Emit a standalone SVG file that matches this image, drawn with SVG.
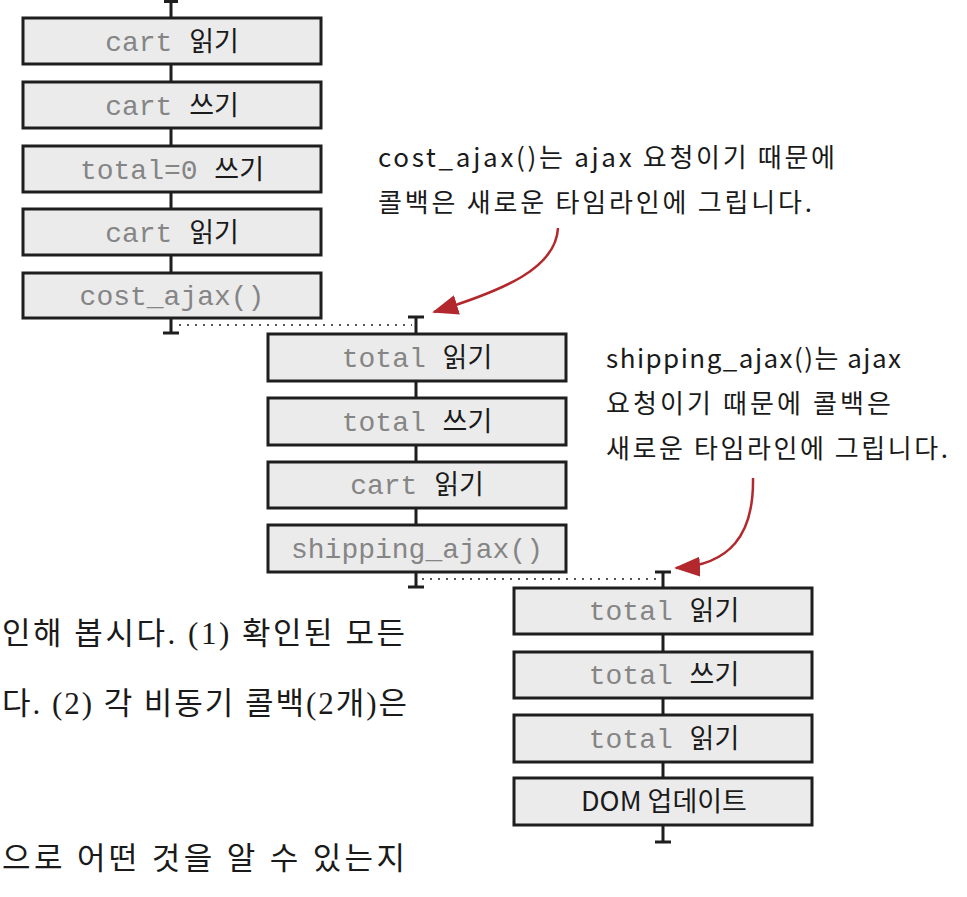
<svg xmlns="http://www.w3.org/2000/svg" width="967" height="897" viewBox="0 0 967 897">
<style>
.box{fill:#ebebeb;stroke:#1e1e1e;stroke-width:3}
.mono{font-family:"Liberation Mono","Noto Sans CJK KR",monospace;font-size:28px;fill:#858585}
.ko{font-family:"Noto Sans CJK KR",sans-serif;font-size:27px;fill:#1a1a1a}
.lbl{text-anchor:middle}
.tl{stroke:#1e1e1e;stroke-width:3;fill:none}
.dot{stroke:#555;stroke-width:2;stroke-dasharray:2 6;fill:none}
.note{font-family:"Noto Sans CJK KR",sans-serif;font-size:26px;fill:#1a1a1a}
.body{font-family:"Liberation Serif","Noto Sans CJK KR",serif;font-size:31px;fill:#1a1a1a;letter-spacing:3px}
.arr{stroke:#b3282d;stroke-width:2.5;fill:none}
</style>
<defs>
<marker id="ah2" viewBox="0 0 26 20" refX="24" refY="10" markerWidth="26" markerHeight="20" orient="auto" markerUnits="userSpaceOnUse">
<path d="M0,0 L26,10 L0,20 Z" fill="#b3282d"/>
</marker>
</defs>

<g id="connectors">
<path class="tl" d="M171,1 V333 M164,1.5 H178 M163,333 H179"/>
<path class="dot" d="M179,325 H412"/>
<path class="tl" d="M416,317 V587 M408,317 H424 M408,587 H424"/>
<path class="dot" d="M422,579 H660"/>
<path class="tl" d="M663,572 V842 M655,572 H671 M655,842 H671"/>
<path class="arr" d="M558,228 C556,268 505,290 434,312" marker-end="url(#ah2)"/>
<path class="arr" d="M753,478 C754,535 730,565 676,568" marker-end="url(#ah2)"/>
</g>

<g id="n1"><rect class="box" x="23" y="18" width="298" height="46"/><text class="lbl" x="172" y="51"><tspan class="mono">cart </tspan><tspan class="ko">읽기</tspan></text></g>
<g id="n2"><rect class="box" x="23" y="82" width="298" height="46"/><text class="lbl" x="172" y="115"><tspan class="mono">cart </tspan><tspan class="ko">쓰기</tspan></text></g>
<g id="n3"><rect class="box" x="23" y="146" width="298" height="46"/><text class="lbl" x="172" y="179"><tspan class="mono">total=0 </tspan><tspan class="ko">쓰기</tspan></text></g>
<g id="n4"><rect class="box" x="23" y="209" width="298" height="46"/><text class="lbl" x="172" y="242"><tspan class="mono">cart </tspan><tspan class="ko">읽기</tspan></text></g>
<g id="n5"><rect class="box" x="23" y="273" width="298" height="45"/><text class="lbl mono" x="172" y="305">cost_ajax()</text></g>

<g id="n6"><rect class="box" x="268" y="334" width="298" height="47"/><text class="lbl" x="417" y="367"><tspan class="mono">total </tspan><tspan class="ko">읽기</tspan></text></g>
<g id="n7"><rect class="box" x="268" y="398" width="298" height="47"/><text class="lbl" x="417" y="431"><tspan class="mono">total </tspan><tspan class="ko">쓰기</tspan></text></g>
<g id="n8"><rect class="box" x="268" y="462" width="298" height="46"/><text class="lbl" x="417" y="494"><tspan class="mono">cart </tspan><tspan class="ko">읽기</tspan></text></g>
<g id="n9"><rect class="box" x="268" y="525" width="298" height="47"/><text class="lbl mono" x="417" y="558">shipping_ajax()</text></g>

<g id="n10"><rect class="box" x="514" y="588" width="298" height="46"/><text class="lbl" x="664" y="620"><tspan class="mono">total </tspan><tspan class="ko">읽기</tspan></text></g>
<g id="n11"><rect class="box" x="514" y="652" width="298" height="46"/><text class="lbl" x="664" y="684"><tspan class="mono">total </tspan><tspan class="ko">쓰기</tspan></text></g>
<g id="n12"><rect class="box" x="514" y="715" width="298" height="47"/><text class="lbl" x="664" y="748"><tspan class="mono">total </tspan><tspan class="ko">읽기</tspan></text></g>
<g id="n13"><rect class="box" x="514" y="778" width="298" height="47"/><text class="lbl ko" x="664" y="811">DOM 업데이트</text></g>

<g id="note1">
<text class="note" x="378" y="167" textLength="457" lengthAdjust="spacing">cost_ajax()는 ajax 요청이기 때문에</text>
<text class="note" x="378" y="212" textLength="434" lengthAdjust="spacing">콜백은 새로운 타임라인에 그립니다.</text>
</g>
<g id="note2">
<text class="note" x="606" y="368" textLength="295" lengthAdjust="spacing">shipping_ajax()는 ajax</text>
<text class="note" x="606" y="413" textLength="285" lengthAdjust="spacing">요청이기 때문에 콜백은</text>
<text class="note" x="606" y="458" textLength="342" lengthAdjust="spacing">새로운 타임라인에 그립니다.</text>
</g>

<g id="bodytext">
<text class="body" x="2" y="644" textLength="406" lengthAdjust="spacing">인해 봅시다. (1) 확인된 모든</text>
<text class="body" x="2" y="714" textLength="408" lengthAdjust="spacing">다. (2) 각 비동기 콜백(2개)은</text>
<text class="body" x="2" y="869" textLength="406" lengthAdjust="spacing">으로 어떤 것을 알 수 있는지</text>
</g>
</svg>
